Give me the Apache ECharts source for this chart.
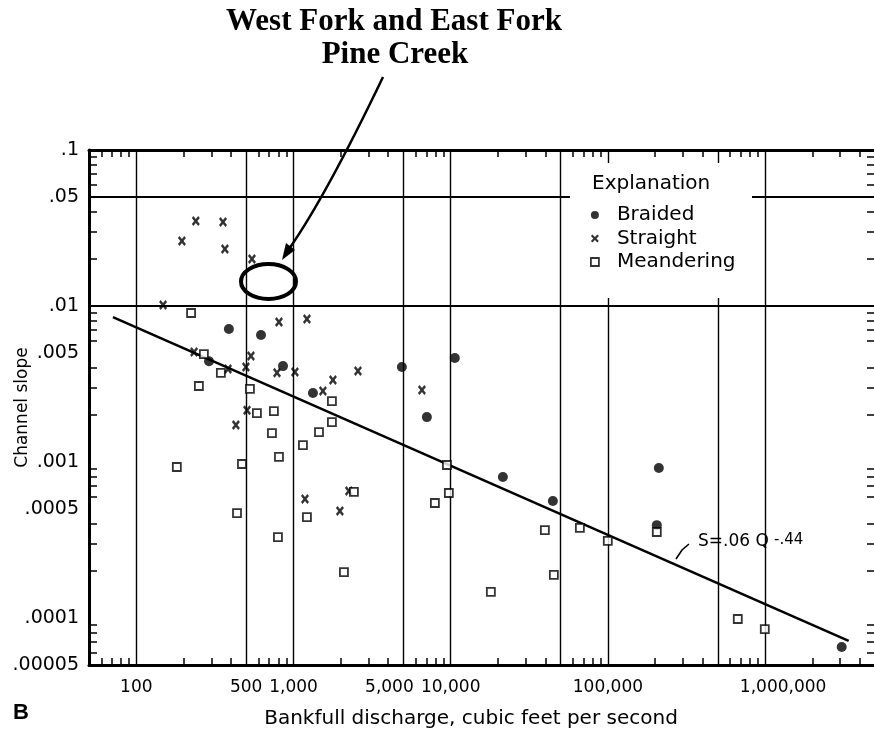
<!DOCTYPE html>
<html><head><meta charset="utf-8">
<script src="https://cdn.jsdelivr.net/npm/echarts@6/dist/echarts.min.js"></script>
<style>html,body{margin:0;padding:0;background:#fff}#c{width:874px;height:733px}</style>
</head><body><div id="c"></div><script>
// ---- data (Q = bankfull discharge, cfs ; S = channel slope) ----
const braided = [[388,0.00713],[621,0.00652],[290,0.00443],[857,0.00412],[1329,0.00277],[4890,0.00406],[10620,0.00464],[7050,0.00194],[21470,0.000802],[44650,0.000562],[210800,0.000916],[204600,0.000394],[3070000,0.0000652]];
const straight = [[239,0.0351],[356,0.0346],[195,0.0261],[366,0.0232],[544,0.0200],[148,0.01015],[808,0.00789],[1217,0.00826],[233,0.00507],[536,0.00478],[383,0.00394],[498,0.00406],[785,0.00373],[1021,0.00377],[2570,0.00383],[1781,0.00336],[1538,0.00285],[506,0.00215],[430,0.00173],[6560,0.00290],[2250,0.000652],[1183,0.000579],[1973,0.000485]];
const meandering = [[223,0.00902],[269,0.00492],[345,0.00373],[250,0.00307],[528,0.00294],[585,0.00206],[750,0.00212],[729,0.00153],[808,0.00108],[470,0.000971],[181,0.000929],[1148,0.001285],[1452,0.001556],[1755,0.00180],[1755,0.00246],[437,0.000471],[796,0.000330],[1217,0.000443],[2422,0.000643],[2093,0.000197],[9460,0.000957],[9730,0.000633],[7930,0.000546],[18000,0.000147],[39700,0.000366],[45300,0.000189],[66300,0.000378],[99800,0.000312],[204600,0.000356],[670000,0.0000986],[995000,0.0000849]];
const fitLine = [[71,0.0085],[3400000,0.0000713]];

const xRange = [50, 5000000];
const yRange = [0.00005, 0.1];
const xTickValues = [100,500,1000,5000,10000,100000,1000000];
const xTickLabels = ['100','500','1,000','5,000','10,000','100,000','1,000,000'];
const yTickValues = [0.1,0.05,0.01,0.005,0.001,0.0005,0.0001,0.00005];
const yTickLabels = ['.1','.05','.01','.005','.001','.0005','.0001','.00005'];
const xGridValues = [100,500,1000,5000,10000,50000,100000,500000,1000000];
const yGridValues = [0.05,0.01,0.005,0.001,0.0005,0.0001];
const xMinorTicks = [60,70,80,90,200,300,400,600,700,800,900,2000,3000,4000,6000,7000,8000,9000,20000,30000,40000,60000,70000,80000,90000,200000,300000,400000,600000,700000,800000,900000,2000000,3000000,4000000];
const yMinorTicks = [0.00006,0.00007,0.00008,0.00009,0.0002,0.0003,0.0004,0.0006,0.0007,0.0008,0.0009,0.002,0.003,0.004,0.006,0.007,0.008,0.009,0.02,0.03,0.04,0.06,0.07,0.08,0.09];

const seriesNames = ['Braided','Straight','Meandering'];
const titleLines = ['West Fork and East Fork','Pine Creek'];
const xName = 'Bankfull discharge, cubic feet per second';
const yName = 'Channel slope';
const legendTitle = 'Explanation';
const fitLabel = 'S=.06 Q';
const fitExp = '-.44';
const panelLetter = 'B';

// ---- helpers ----
const L = v => Math.log10(v);
const FONT = 'DejaVu Sans';
const X_PATH = 'path://M0,2L2,0L5,3L8,0L10,2L7,5L10,8L8,10L5,7L2,10L0,8L3,5Z';
const SQ_PATH = 'path://M0,0L10,0L10,10L0,10Z';
const findLabel = (vals, labs, v) => { const i = vals.findIndex(t => Math.abs(L(t) - v) < 1e-6); return i >= 0 ? labs[i] : ''; };
const xShift = {'5,000': 'l', '1,000,000': 'r'};

const chart = echarts.init(document.getElementById('c'), null, {renderer: 'canvas'});

const overlayX = (pos, extra) => Object.assign({
  type: 'value', min: L(xRange[0]), max: L(xRange[1]), position: pos,
  axisLine: {show: true, onZero: false, lineStyle: {color: '#000', width: 3}},
  axisTick: {show: true, inside: true, length: 7, customValues: xMinorTicks.map(L), lineStyle: {color: '#000', width: 1.5}},
  axisLabel: {show: false},
  splitLine: {show: false}
}, extra);
const overlayY = (pos, extra) => Object.assign({
  type: 'value', min: L(yRange[0]), max: L(yRange[1]), position: pos,
  axisLine: {show: true, onZero: false, lineStyle: {color: '#000', width: 3}},
  axisTick: {show: true, inside: true, length: 8, customValues: yMinorTicks.map(L), lineStyle: {color: '#000', width: 1.5}},
  axisLabel: {show: false},
  splitLine: {show: false}
}, extra);

const option = {
  animation: false,
  backgroundColor: '#fff',
  textStyle: {fontFamily: FONT, color: '#000'},
  grid: {left: 89, top: 150, width: 786, height: 515, containLabel: false, outerBoundsMode: 'none'},
  xAxis: [
    {type: 'log', logBase: 10, min: xRange[0], max: xRange[1], show: false},
    overlayX('bottom', {
      axisLabel: {
        show: true, margin: 14, fontSize: 17, color: '#000', fontFamily: FONT,
        customValues: xTickValues.map(L), hideOverlap: false,
        formatter: v => { const s = findLabel(xTickValues, xTickLabels, v); return xShift[s] ? '{' + xShift[s] + '|' + s + '}' : s; },
        rich: {
          l: {padding: [0, 28, 0, 0], fontSize: 17, fontFamily: FONT, color: '#000'},
          r: {padding: [0, 0, 0, 36], fontSize: 17, fontFamily: FONT, color: '#000'}
        }
      },
      name: xName, nameLocation: 'middle', nameGap: 44, nameMoveOverlap: false,
      nameTextStyle: {fontSize: 20, color: '#000', fontFamily: FONT, padding: [0, 22, 0, 0]}
    }),
    overlayX('top', {})
  ],
  yAxis: [
    {type: 'log', logBase: 10, min: yRange[0], max: yRange[1], show: false},
    overlayY('left', {
      axisLabel: {
        show: true, margin: 10, fontSize: 19, color: '#000', fontFamily: FONT,
        customValues: yTickValues.map(L), hideOverlap: false,
        formatter: v => findLabel(yTickValues, yTickLabels, v)
      },
      name: yName, nameLocation: 'middle', nameGap: 58, nameMoveOverlap: false,
      nameTextStyle: {fontSize: 17, color: '#000', fontFamily: FONT}
    }),
    overlayY('right', {})
  ],
  legend: {
    orient: 'vertical', left: 585, top: 200, itemWidth: 34, itemHeight: 8, itemGap: 3.5,
    selectedMode: false, z: 4, symbolKeepAspect: true,
    textStyle: {fontSize: 20, color: '#000', fontFamily: FONT, lineHeight: 20},
    data: [
      {name: seriesNames[0], icon: 'circle', itemStyle: {color: '#000', borderWidth: 0}},
      {name: seriesNames[1], icon: X_PATH, itemStyle: {color: '#000', borderWidth: 0}},
      {name: seriesNames[2], icon: SQ_PATH, itemStyle: {color: '#fff', borderColor: '#000', borderWidth: 1.8}}
    ]
  },
  series: [
    {
      type: 'line', name: 'fit', xAxisIndex: 0, yAxisIndex: 0, data: fitLine,
      symbol: 'none', silent: true, lineStyle: {color: '#000', width: 2.5}, z: 2,
      markLine: {
        silent: true, symbol: ['none', 'none'], z: 1, animation: false,
        label: {show: false},
        lineStyle: {color: '#000', type: 'solid'},
        data: [
          ...xGridValues.map(v => ({xAxis: v, lineStyle: {color: '#000', width: 1.4, type: 'solid'}})),
          ...yGridValues.map(v => ({yAxis: v, lineStyle: {color: '#000', width: 2, type: 'solid'}}))
        ]
      }
    },
    {type: 'scatter', name: seriesNames[0], xAxisIndex: 0, yAxisIndex: 0, data: braided,
     symbol: 'circle', symbolSize: 10, itemStyle: {color: '#000'}, z: 3},
    {type: 'scatter', name: seriesNames[1], xAxisIndex: 0, yAxisIndex: 0, data: straight,
     symbol: X_PATH, symbolSize: [8, 10], itemStyle: {color: '#000'}, z: 3},
    {type: 'scatter', name: seriesNames[2], xAxisIndex: 0, yAxisIndex: 0, data: meandering,
     symbol: 'rect', symbolSize: 8, itemStyle: {color: '#fff', borderColor: '#000', borderWidth: 1.8}, z: 3}
  ],
  graphic: [
    {type: 'rect', z: 3, shape: {x: 570, y: 163, width: 182, height: 135}, style: {fill: '#fff'}, silent: true},
    {type: 'text', z: 5, x: 592, y: 184, silent: true,
     style: {text: legendTitle, font: '20px "DejaVu Sans"', fill: '#000', align: 'left', verticalAlign: 'middle'}},
    {type: 'text', z: 6, x: 394, y: 22, silent: true,
     style: {text: titleLines[0], font: 'bold 31px "Liberation Serif"', fill: '#000', align: 'center', verticalAlign: 'middle'}},
    {type: 'text', z: 6, x: 395, y: 55, silent: true,
     style: {text: titleLines[1], font: 'bold 31px "Liberation Serif"', fill: '#000', align: 'center', verticalAlign: 'middle'}},
    {type: 'bezierCurve', z: 6, silent: true,
     shape: {x1: 383, y1: 77, cpx1: 326, cpy1: 196, x2: 289, y2: 249},
     style: {stroke: '#000', lineWidth: 2.5, fill: null}},
    {type: 'polygon', z: 6, silent: true,
     shape: {points: [[282, 260], [295, 250], [286, 243]]}, style: {fill: '#000'}},
    {type: 'ellipse', z: 6, silent: true,
     shape: {cx: 268.5, cy: 281.5, rx: 27.5, ry: 17.5}, style: {stroke: '#000', lineWidth: 4, fill: null}},
    {type: 'text', z: 6, x: 698, y: 542, silent: true,
     style: {text: fitLabel, font: '17px "DejaVu Sans"', fill: '#000', align: 'left', verticalAlign: 'middle'}},
    {type: 'text', z: 6, x: 774, y: 540, silent: true,
     style: {text: fitExp, font: '15px "DejaVu Sans"', fill: '#000', align: 'left', verticalAlign: 'middle'}},
    {type: 'polyline', z: 6, silent: true,
     shape: {points: [[689, 544], [682, 550], [676, 559]]}, style: {stroke: '#000', lineWidth: 1.6, fill: null}},
    {type: 'text', z: 6, x: 13, y: 713, silent: true,
     style: {text: panelLetter, font: 'bold 22px "Liberation Sans"', fill: '#000', align: 'left', verticalAlign: 'middle'}}
  ]
};
chart.setOption(option);
</script></body></html>
